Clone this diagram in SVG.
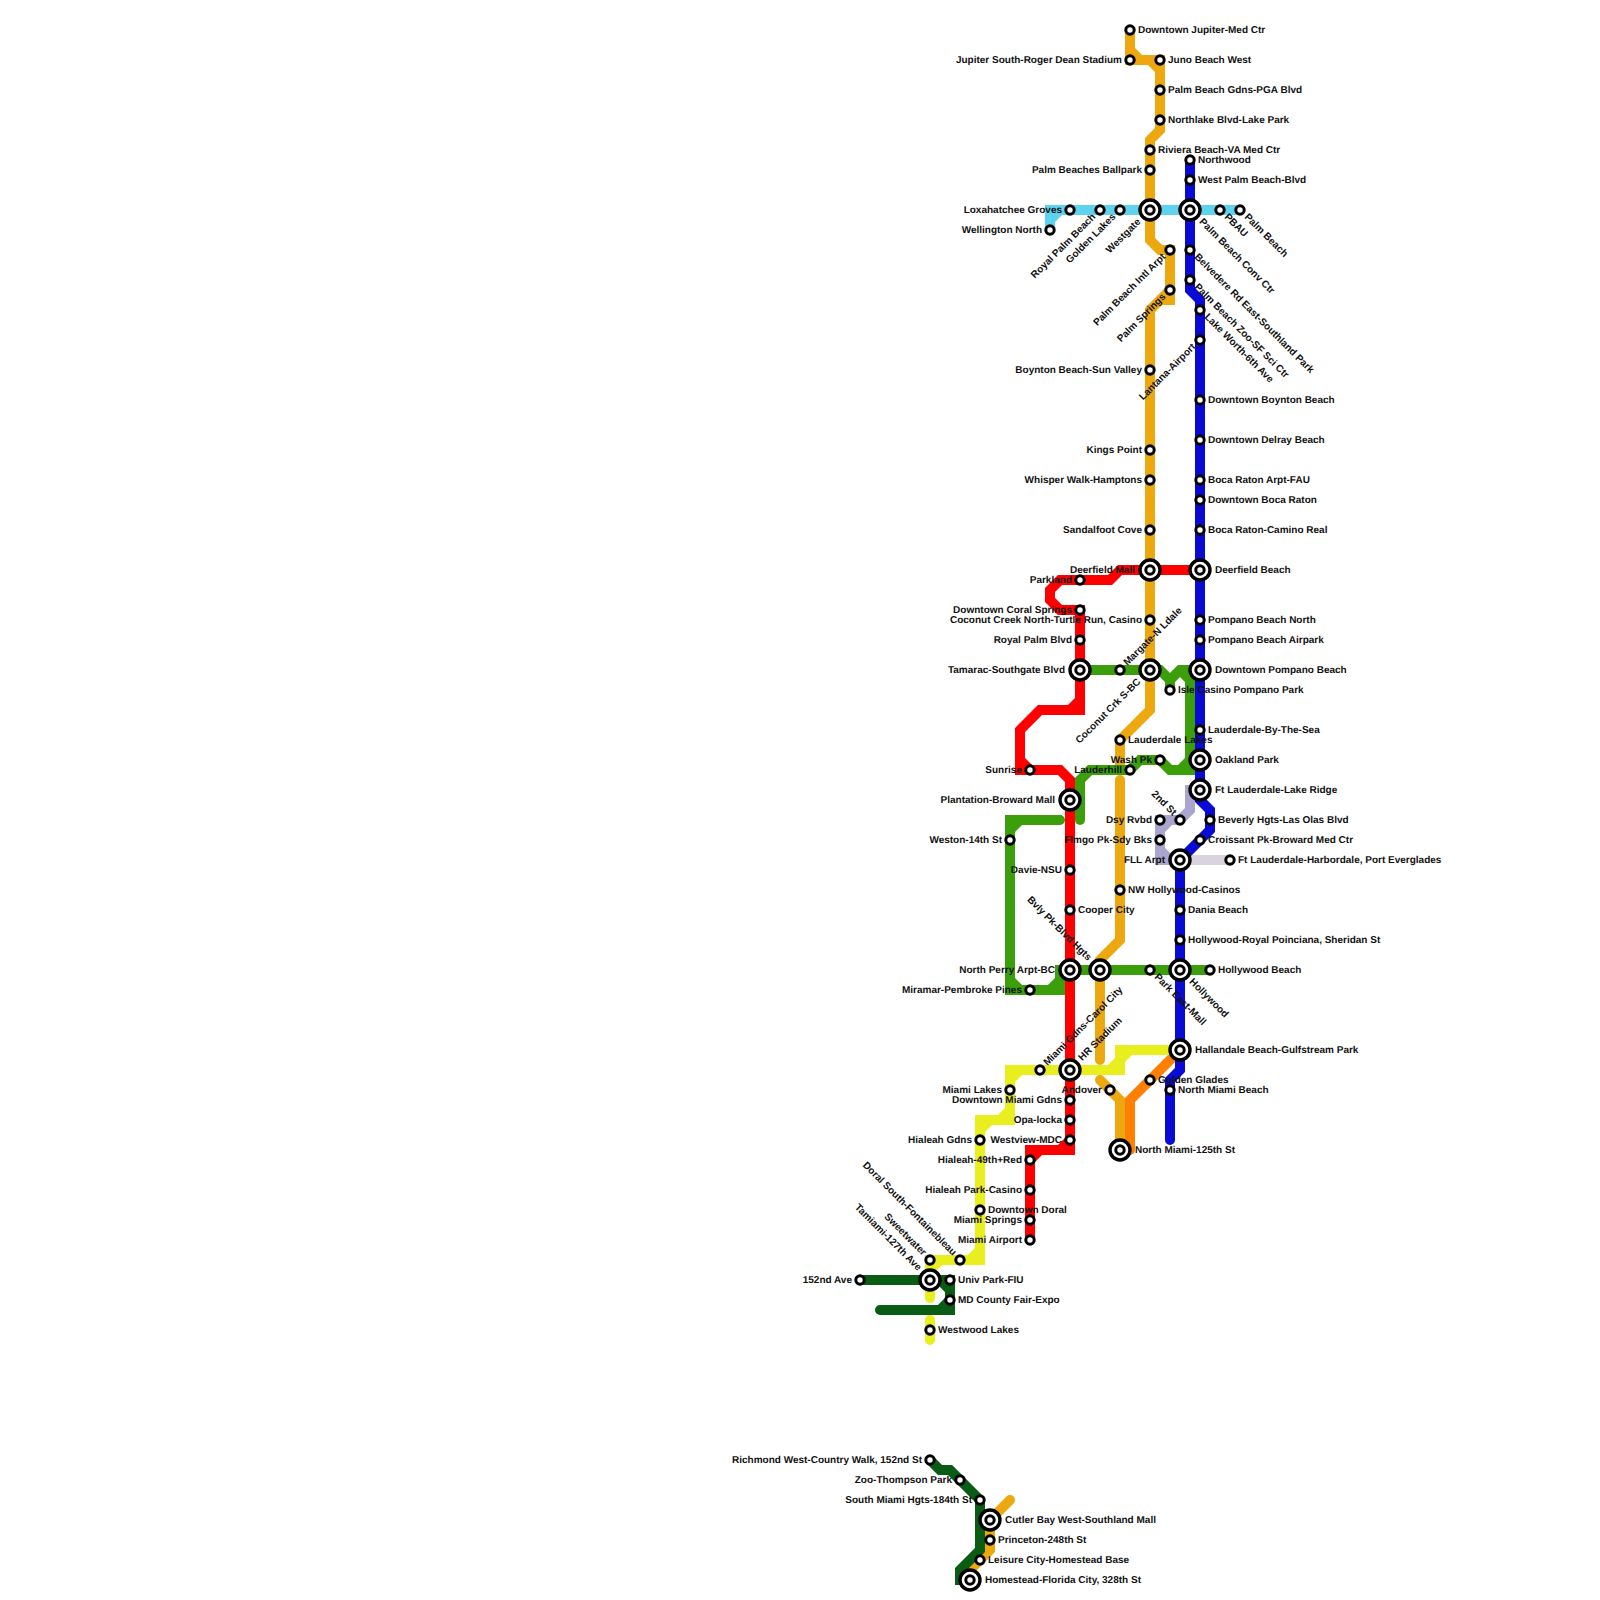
<svg xmlns="http://www.w3.org/2000/svg" width="1600" height="1600" viewBox="0 0 1600 1600">
<style>
.l{fill:none;stroke-width:10;stroke-linecap:round;stroke-linejoin:miter}
.s{fill:#fff;stroke:#000;stroke-width:3}
.b{fill:#fff;stroke:#000;stroke-width:3.4}
text{font-family:"Liberation Sans",Arial,sans-serif;font-size:10px;font-weight:700;fill:#111;text-rendering:geometricPrecision}
.e{text-anchor:end}
</style>
<rect width="1600" height="1600" fill="#fff"/>
<g id="connectors">
<path class="l" stroke="#D8D3DC" d="M1180,860H1230"/>
<path class="l" stroke="#A9A5CE" d="M1200,790H1190V810L1180,820H1160V860H1180M1160,830L1170,820M1160,850L1170,860"/>
<path class="l" stroke="#5ED3F0" d="M1050,230V210H1240M1050,220L1060,210"/>
<path class="l" stroke="#EDA80F" d="M1130,30V60H1160V130L1150,140V240L1160,250H1170V300H1160L1150,310V710L1120,740V770M1130,50L1140,60M1150,60L1160,70M1170,290L1150,310M1120,780V940L1100,960V1060M1100,1080L1120,1100V1150M1010,1500L990,1520V1550L970,1570V1580"/>
<path class="l" stroke="#FF8000" d="M1180,1050L1130,1100V1150"/>
<path class="l" stroke="#0A0AD6" d="M1190,160V290L1200,300V800L1210,810V830L1180,860V1070L1170,1080V1140"/>
<path class="l" stroke="#FF0000" d="M1200,570H1120L1110,580H1060L1050,590V600L1060,610H1080V710H1040L1020,730V770H1060L1070,780V1150H1030V1240M1080,700L1070,710M1020,760L1030,770M1070,1140L1060,1150M1030,1160L1040,1150"/>
<path class="l" stroke="#3A9F0A" d="M1080,670H1160L1170,680V690M1170,680L1180,670H1200M1190,670V770H1170L1160,760H1140L1130,770H1090L1080,780V820M1190,680L1180,670M1190,760L1180,770M1060,820H1010V990H1060V970H1210M1010,830L1020,820M1010,980L1020,990M1050,990L1060,980"/>
<path class="l" stroke="#E9EE1F" d="M1180,1050H1120V1070H1010V1120H980V1260H930V1298M1110,1070L1120,1060M1120,1060L1130,1050M1010,1080L1020,1070M1000,1120L1010,1110M980,1130L990,1120M970,1260L980,1250M930,1270L940,1260M930,1320V1340"/>
<path class="l" stroke="#0A5C14" d="M860,1280H950V1310H880M940,1280L950,1290M940,1310L950,1300M930,1460L940,1470H950L980,1500V1550L960,1570V1580H970"/>
</g>
<g id="n01" transform="translate(1130,30)"><circle class="s" r="4.2"/><text x="8" y="2.5">Downtown Jupiter-Med Ctr</text></g>
<g id="n02" transform="translate(1130,60)"><circle class="s" r="4.2"/><text class="e" x="-8" y="2.5">Jupiter South-Roger Dean Stadium</text></g>
<g id="n03" transform="translate(1160,60)"><circle class="s" r="4.2"/><text x="8" y="2.5">Juno Beach West</text></g>
<g id="n04" transform="translate(1160,90)"><circle class="s" r="4.2"/><text x="8" y="2.5">Palm Beach Gdns-PGA Blvd</text></g>
<g id="n05" transform="translate(1160,120)"><circle class="s" r="4.2"/><text x="8" y="2.5">Northlake Blvd-Lake Park</text></g>
<g id="n06" transform="translate(1150,150)"><circle class="s" r="4.2"/><text x="8" y="2.5">Riviera Beach-VA Med Ctr</text></g>
<g id="n07" transform="translate(1150,170)"><circle class="s" r="4.2"/><text class="e" x="-8" y="2.5">Palm Beaches Ballpark</text></g>
<g id="n08" transform="translate(1150,210)"><circle class="b" r="10"/><circle class="s" r="4.2"/><text class="e" x="-15" y="2.5" transform="rotate(-45)">Westgate</text></g>
<g id="n09" transform="translate(1190,160)"><circle class="s" r="4.2"/><text x="8" y="2.5">Northwood</text></g>
<g id="n10" transform="translate(1190,180)"><circle class="s" r="4.2"/><text x="8" y="2.5">West Palm Beach-Blvd</text></g>
<g id="n11" transform="translate(1190,210)"><circle class="b" r="10"/><circle class="s" r="4.2"/><text x="15" y="2.5" transform="rotate(45)">Palm Beach Conv Ctr</text></g>
<g id="n12" transform="translate(1220,210)"><circle class="s" r="4.2"/><text x="8" y="2.5" transform="rotate(45)">PBAU</text></g>
<g id="n13" transform="translate(1240,210)"><circle class="s" r="4.2"/><text x="8" y="2.5" transform="rotate(45)">Palm Beach</text></g>
<g id="n14" transform="translate(1070,210)"><circle class="s" r="4.2"/><text class="e" x="-8" y="2.5">Loxahatchee Groves</text></g>
<g id="n15" transform="translate(1100,210)"><circle class="s" r="4.2"/><text class="e" x="-8" y="2.5" transform="rotate(-45)">Royal Palm Beach</text></g>
<g id="n16" transform="translate(1120,210)"><circle class="s" r="4.2"/><text class="e" x="-8" y="2.5" transform="rotate(-45)">Golden Lakes</text></g>
<g id="n17" transform="translate(1050,230)"><circle class="s" r="4.2"/><text class="e" x="-8" y="2.5">Wellington North</text></g>
<g id="n18" transform="translate(1170,250)"><circle class="s" r="4.2"/><text class="e" x="-8" y="2.5" transform="rotate(-45)">Palm Beach Intl Arpt</text></g>
<g id="n19" transform="translate(1170,290)"><circle class="s" r="4.2"/><text class="e" x="-8" y="2.5" transform="rotate(-45)">Palm Springs</text></g>
<g id="n20" transform="translate(1190,250)"><circle class="s" r="4.2"/><text x="8" y="2.5" transform="rotate(45)">Belvedere Rd East-Southland Park</text></g>
<g id="n21" transform="translate(1190,280)"><circle class="s" r="4.2"/><text x="8" y="2.5" transform="rotate(45)">Palm Beach Zoo-SF Sci Ctr</text></g>
<g id="n22" transform="translate(1200,310)"><circle class="s" r="4.2"/><text x="8" y="2.5" transform="rotate(45)">Lake Worth-6th Ave</text></g>
<g id="n23" transform="translate(1200,340)"><circle class="s" r="4.2"/><text class="e" x="-8" y="2.5" transform="rotate(-45)">Lantana-Airport</text></g>
<g id="n24" transform="translate(1150,370)"><circle class="s" r="4.2"/><text class="e" x="-8" y="2.5">Boynton Beach-Sun Valley</text></g>
<g id="n25" transform="translate(1200,400)"><circle class="s" r="4.2"/><text x="8" y="2.5">Downtown Boynton Beach</text></g>
<g id="n26" transform="translate(1200,440)"><circle class="s" r="4.2"/><text x="8" y="2.5">Downtown Delray Beach</text></g>
<g id="n27" transform="translate(1200,480)"><circle class="s" r="4.2"/><text x="8" y="2.5">Boca Raton Arpt-FAU</text></g>
<g id="n28" transform="translate(1200,500)"><circle class="s" r="4.2"/><text x="8" y="2.5">Downtown Boca Raton</text></g>
<g id="n29" transform="translate(1200,530)"><circle class="s" r="4.2"/><text x="8" y="2.5">Boca Raton-Camino Real</text></g>
<g id="n30" transform="translate(1150,450)"><circle class="s" r="4.2"/><text class="e" x="-8" y="2.5">Kings Point</text></g>
<g id="n31" transform="translate(1150,480)"><circle class="s" r="4.2"/><text class="e" x="-8" y="2.5">Whisper Walk-Hamptons</text></g>
<g id="n32" transform="translate(1150,530)"><circle class="s" r="4.2"/><text class="e" x="-8" y="2.5">Sandalfoot Cove</text></g>
<g id="n33" transform="translate(1150,570)"><circle class="b" r="10"/><circle class="s" r="4.2"/><text class="e" x="-15" y="2.5">Deerfield Mall</text></g>
<g id="n34" transform="translate(1200,570)"><circle class="b" r="10"/><circle class="s" r="4.2"/><text x="15" y="2.5">Deerfield Beach</text></g>
<g id="n35" transform="translate(1080,580)"><circle class="s" r="4.2"/><text class="e" x="-8" y="2.5">Parkland</text></g>
<g id="n36" transform="translate(1080,610)"><circle class="s" r="4.2"/><text class="e" x="-8" y="2.5">Downtown Coral Springs</text></g>
<g id="n37" transform="translate(1150,620)"><circle class="s" r="4.2"/><text class="e" x="-8" y="2.5">Coconut Creek North-Turtle Run, Casino</text></g>
<g id="n38" transform="translate(1200,620)"><circle class="s" r="4.2"/><text x="8" y="2.5">Pompano Beach North</text></g>
<g id="n39" transform="translate(1200,640)"><circle class="s" r="4.2"/><text x="8" y="2.5">Pompano Beach Airpark</text></g>
<g id="n40" transform="translate(1080,640)"><circle class="s" r="4.2"/><text class="e" x="-8" y="2.5">Royal Palm Blvd</text></g>
<g id="n41" transform="translate(1080,670)"><circle class="b" r="10"/><circle class="s" r="4.2"/><text class="e" x="-15" y="2.5">Tamarac-Southgate Blvd</text></g>
<g id="n42" transform="translate(1120,670)"><circle class="s" r="4.2"/><text x="8" y="2.5" transform="rotate(-45)">Margate-N Ldale</text></g>
<g id="n43" transform="translate(1150,670)"><circle class="b" r="10"/><circle class="s" r="4.2"/><text class="e" x="-15" y="2.5" transform="rotate(-45)">Coconut Crk S-BC</text></g>
<g id="n44" transform="translate(1200,670)"><circle class="b" r="10"/><circle class="s" r="4.2"/><text x="15" y="2.5">Downtown Pompano Beach</text></g>
<g id="n45" transform="translate(1170,690)"><circle class="s" r="4.2"/><text x="8" y="2.5">Isle Casino Pompano Park</text></g>
<g id="n46" transform="translate(1200,730)"><circle class="s" r="4.2"/><text x="8" y="2.5">Lauderdale-By-The-Sea</text></g>
<g id="n47" transform="translate(1120,740)"><circle class="s" r="4.2"/><text x="8" y="2.5">Lauderdale Lakes</text></g>
<g id="n48" transform="translate(1160,760)"><circle class="s" r="4.2"/><text class="e" x="-8" y="2.5">Wash Pk</text></g>
<g id="n49" transform="translate(1200,760)"><circle class="b" r="10"/><circle class="s" r="4.2"/><text x="15" y="2.5">Oakland Park</text></g>
<g id="n50" transform="translate(1030,770)"><circle class="s" r="4.2"/><text class="e" x="-8" y="2.5">Sunrise</text></g>
<g id="n51" transform="translate(1130,770)"><circle class="s" r="4.2"/><text class="e" x="-8" y="2.5">Lauderhill</text></g>
<g id="n52" transform="translate(1070,800)"><circle class="b" r="10"/><circle class="s" r="4.2"/><text class="e" x="-15" y="2.5">Plantation-Broward Mall</text></g>
<g id="n53" transform="translate(1200,790)"><circle class="b" r="10"/><circle class="s" r="4.2"/><text x="15" y="2.5">Ft Lauderdale-Lake Ridge</text></g>
<g id="n54" transform="translate(1160,820)"><circle class="s" r="4.2"/><text class="e" x="-8" y="2.5">Dsy Rvbd</text></g>
<g id="n55" transform="translate(1180,820)"><circle class="s" r="4.2"/><text class="e" x="-8" y="2.5" transform="rotate(45)">2nd St</text></g>
<g id="n56" transform="translate(1210,820)"><circle class="s" r="4.2"/><text x="8" y="2.5">Beverly Hgts-Las Olas Blvd</text></g>
<g id="n57" transform="translate(1010,840)"><circle class="s" r="4.2"/><text class="e" x="-8" y="2.5">Weston-14th St</text></g>
<g id="n58" transform="translate(1160,840)"><circle class="s" r="4.2"/><text class="e" x="-8" y="2.5">Flmgo Pk-Sdy Bks</text></g>
<g id="n59" transform="translate(1200,840)"><circle class="s" r="4.2"/><text x="8" y="2.5">Croissant Pk-Broward Med Ctr</text></g>
<g id="n60" transform="translate(1180,860)"><circle class="b" r="10"/><circle class="s" r="4.2"/><text class="e" x="-15" y="2.5">FLL Arpt</text></g>
<g id="n61" transform="translate(1230,860)"><circle class="s" r="4.2"/><text x="8" y="2.5">Ft Lauderdale-Harbordale, Port Everglades</text></g>
<g id="n62" transform="translate(1070,870)"><circle class="s" r="4.2"/><text class="e" x="-8" y="2.5">Davie-NSU</text></g>
<g id="n63" transform="translate(1120,890)"><circle class="s" r="4.2"/><text x="8" y="2.5">NW Hollywood-Casinos</text></g>
<g id="n64" transform="translate(1070,910)"><circle class="s" r="4.2"/><text x="8" y="2.5">Cooper City</text></g>
<g id="n65" transform="translate(1180,910)"><circle class="s" r="4.2"/><text x="8" y="2.5">Dania Beach</text></g>
<g id="n66" transform="translate(1180,940)"><circle class="s" r="4.2"/><text x="8" y="2.5">Hollywood-Royal Poinciana, Sheridan St</text></g>
<g id="n67" transform="translate(1070,970)"><circle class="b" r="10"/><circle class="s" r="4.2"/><text class="e" x="-15" y="2.5">North Perry Arpt-BC</text></g>
<g id="n68" transform="translate(1100,970)"><circle class="b" r="10"/><circle class="s" r="4.2"/><text class="e" x="-15" y="2.5" transform="rotate(45)">Bvly Pk-Blvd Hgts</text></g>
<g id="n69" transform="translate(1150,970)"><circle class="s" r="4.2"/><text x="8" y="2.5" transform="rotate(45)">Park East-Mall</text></g>
<g id="n70" transform="translate(1180,970)"><circle class="b" r="10"/><circle class="s" r="4.2"/><text x="15" y="2.5" transform="rotate(45)">Hollywood</text></g>
<g id="n71" transform="translate(1210,970)"><circle class="s" r="4.2"/><text x="8" y="2.5">Hollywood Beach</text></g>
<g id="n72" transform="translate(1030,990)"><circle class="s" r="4.2"/><text class="e" x="-8" y="2.5">Miramar-Pembroke Pines</text></g>
<g id="n73" transform="translate(1180,1050)"><circle class="b" r="10"/><circle class="s" r="4.2"/><text x="15" y="2.5">Hallandale Beach-Gulfstream Park</text></g>
<g id="n74" transform="translate(1040,1070)"><circle class="s" r="4.2"/><text x="8" y="2.5" transform="rotate(-45)">Miami Gdns-Carol City</text></g>
<g id="n75" transform="translate(1070,1070)"><circle class="b" r="10"/><circle class="s" r="4.2"/><text x="15" y="2.5" transform="rotate(-45)">HR Stadium</text></g>
<g id="n76" transform="translate(1150,1080)"><circle class="s" r="4.2"/><text x="8" y="2.5">Golden Glades</text></g>
<g id="n77" transform="translate(1110,1090)"><circle class="s" r="4.2"/><text class="e" x="-8" y="2.5">Andover</text></g>
<g id="n78" transform="translate(1170,1090)"><circle class="s" r="4.2"/><text x="8" y="2.5">North Miami Beach</text></g>
<g id="n79" transform="translate(1010,1090)"><circle class="s" r="4.2"/><text class="e" x="-8" y="2.5">Miami Lakes</text></g>
<g id="n80" transform="translate(1070,1100)"><circle class="s" r="4.2"/><text class="e" x="-8" y="2.5">Downtown Miami Gdns</text></g>
<g id="n81" transform="translate(1070,1120)"><circle class="s" r="4.2"/><text class="e" x="-8" y="2.5">Opa-locka</text></g>
<g id="n82" transform="translate(1070,1140)"><circle class="s" r="4.2"/><text class="e" x="-8" y="2.5">Westview-MDC</text></g>
<g id="n83" transform="translate(980,1140)"><circle class="s" r="4.2"/><text class="e" x="-8" y="2.5">Hialeah Gdns</text></g>
<g id="n84" transform="translate(1030,1160)"><circle class="s" r="4.2"/><text class="e" x="-8" y="2.5">Hialeah-49th+Red</text></g>
<g id="n85" transform="translate(1120,1150)"><circle class="b" r="10"/><circle class="s" r="4.2"/><text x="15" y="2.5">North Miami-125th St</text></g>
<g id="n86" transform="translate(1030,1190)"><circle class="s" r="4.2"/><text class="e" x="-8" y="2.5">Hialeah Park-Casino</text></g>
<g id="n87" transform="translate(980,1210)"><circle class="s" r="4.2"/><text x="8" y="2.5">Downtown Doral</text></g>
<g id="n88" transform="translate(1030,1220)"><circle class="s" r="4.2"/><text class="e" x="-8" y="2.5">Miami Springs</text></g>
<g id="n89" transform="translate(1030,1240)"><circle class="s" r="4.2"/><text class="e" x="-8" y="2.5">Miami Airport</text></g>
<g id="n90" transform="translate(960,1260)"><circle class="s" r="4.2"/><text class="e" x="-8" y="2.5" transform="rotate(45)">Doral South-Fontainebleau</text></g>
<g id="n91" transform="translate(930,1260)"><circle class="s" r="4.2"/><text class="e" x="-8" y="2.5" transform="rotate(45)">Sweetwater</text></g>
<g id="n92" transform="translate(930,1280)"><circle class="b" r="10"/><circle class="s" r="4.2"/><text class="e" x="-15" y="2.5" transform="rotate(45)">Tamiami-127th Ave</text></g>
<g id="n93" transform="translate(860,1280)"><circle class="s" r="4.2"/><text class="e" x="-8" y="2.5">152nd Ave</text></g>
<g id="n94" transform="translate(950,1280)"><circle class="s" r="4.2"/><text x="8" y="2.5">Univ Park-FIU</text></g>
<g id="n95" transform="translate(950,1300)"><circle class="s" r="4.2"/><text x="8" y="2.5">MD County Fair-Expo</text></g>
<g id="n96" transform="translate(930,1330)"><circle class="s" r="4.2"/><text x="8" y="2.5">Westwood Lakes</text></g>
<g id="n97" transform="translate(930,1460)"><circle class="s" r="4.2"/><text class="e" x="-8" y="2.5">Richmond West-Country Walk, 152nd St</text></g>
<g id="n98" transform="translate(960,1480)"><circle class="s" r="4.2"/><text class="e" x="-8" y="2.5">Zoo-Thompson Park</text></g>
<g id="n99" transform="translate(980,1500)"><circle class="s" r="4.2"/><text class="e" x="-8" y="2.5">South Miami Hgts-184th St</text></g>
<g id="n100" transform="translate(990,1520)"><circle class="b" r="10"/><circle class="s" r="4.2"/><text x="15" y="2.5">Cutler Bay West-Southland Mall</text></g>
<g id="n101" transform="translate(990,1540)"><circle class="s" r="4.2"/><text x="8" y="2.5">Princeton-248th St</text></g>
<g id="n102" transform="translate(980,1560)"><circle class="s" r="4.2"/><text x="8" y="2.5">Leisure City-Homestead Base</text></g>
<g id="n103" transform="translate(970,1580)"><circle class="b" r="10"/><circle class="s" r="4.2"/><text x="15" y="2.5">Homestead-Florida City, 328th St</text></g>
</svg>
